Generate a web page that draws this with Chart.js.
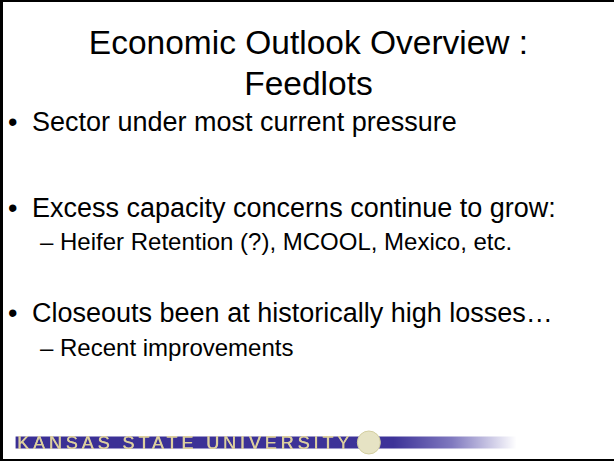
<!DOCTYPE html>
<html>
<head>
<meta charset="utf-8">
<script src="https://cdn.jsdelivr.net/npm/chart.js@4.4.0/dist/chart.umd.min.js"></script>
<style>
  html, body { margin: 0; padding: 0; background: #fff; }
  #slide {
    position: relative; width: 614px; height: 461px; overflow: hidden;
    box-sizing: border-box; border-left: 3px solid #000; border-top: 2px solid #000; border-bottom: 2px solid #000;
    font-family: "Liberation Sans", Arial, sans-serif; color: #000;
  }
  .t { position: absolute; white-space: nowrap; line-height: 1; }
  .title { left: 0; width: 611px; text-align: center; font-size: 33.5px; }
  .bullet { font-size: 27px; }
  .sub { font-size: 24px; }
  #banner { position: absolute; left: 0; top: 422px; width: 611px; height: 37px; }
  #bannerText {
    position: absolute; left: 14px; top: 432px; font-size: 18px; line-height: 18px;
    letter-spacing: 3.9px; color: #dccf9e; z-index: 2;
    text-shadow: 0.4px 0 0 #dccf9e;
  }
</style>
</head>
<body>
<div id="slide">
  <div id="text"></div>
  <canvas id="banner" width="611" height="37"></canvas>
  <div id="bannerText" class="t"></div>
</div>
<script>
// slide content
const titleLines = ["Economic Outlook Overview :", "Feedlots"];
const bullets = ["Sector under most current pressure", "Excess capacity concerns continue to grow:", "Closeouts been at historically high losses…"];
const subBullets = [null, "Heifer Retention (?), MCOOL, Mexico, etc.", "Recent improvements"];
const bannerLabel = "KANSAS STATE UNIVERSITY";
// banner bar spans the whole footer, seal sits just after the name
const bannerValues = [1];
const sealValues = [0.603];

const titleTops = [24, 65];
const bulletTops = [107, 193, 298];
const subTops = [null, 228, 334];

const box = document.getElementById("text");
let html = "";
titleLines.forEach((s, i) => {
  html += `<div class="t title" style="top:${titleTops[i]}px">${s}</div>`;
});
bullets.forEach((s, i) => {
  html += `<div class="t bullet" style="left:5px;top:${bulletTops[i]}px">•</div>`;
  html += `<div class="t bullet" style="left:29px;top:${bulletTops[i]}px">${s}</div>`;
  if (subBullets[i]) {
    html += `<div class="t sub" style="left:37px;top:${subTops[i]}px">– ${subBullets[i]}</div>`;
  }
});
box.innerHTML = html;
document.getElementById("bannerText").textContent = bannerLabel;

const ctx = document.getElementById("banner").getContext("2d");

function bannerFill(context) {
  const area = context.chart.chartArea;
  if (!area) return "#3c3196";
  const g = context.chart.ctx.createLinearGradient(area.left, 0, area.right, 0);
  g.addColorStop(0, "#3a2f94");
  g.addColorStop(0.645, "#3d3398");
  g.addColorStop(0.745, "#8079bf");
  g.addColorStop(0.855, "#ffffff");
  g.addColorStop(1, "#ffffff");
  return g;
}

new Chart(ctx, {
  data: {
    labels: [bannerLabel],
    datasets: [{
      type: "bar",
      data: bannerValues,
      backgroundColor: bannerFill,
      borderWidth: 0,
      barThickness: 19,
      order: 2
    }, {
      type: "bubble",
      data: sealValues.map(v => ({ x: v, y: bannerLabel, r: 11.5 })),
      backgroundColor: "#e6e3c4",
      borderColor: "#d3cea0",
      borderWidth: 1,
      order: 1
    }]
  },
  options: {
    indexAxis: "y",
    responsive: false,
    animation: false,
    layout: { padding: 0 },
    plugins: { legend: { display: false }, tooltip: { enabled: false } },
    scales: {
      x: { type: "linear", min: 0, max: 1, display: false },
      y: { type: "category", display: false }
    }
  }
});
</script>
</body>
</html>
